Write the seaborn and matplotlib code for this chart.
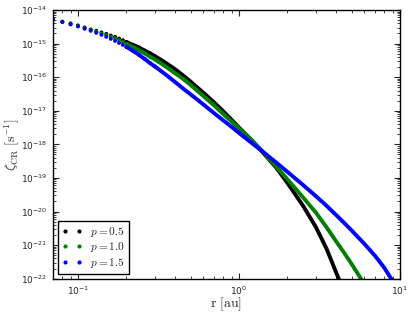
import matplotlib
matplotlib.use("Agg")
import matplotlib.pyplot as plt
from matplotlib.lines import Line2D
import seaborn as sns
import pandas as pd

# ==============================
# Data (log10 of zeta_CR in s^-1)
# ==============================
r_au = [0.07, 0.08, 0.09, 0.10, 0.11, 0.12, 0.13, 0.14, 0.15, 0.16,
        0.17, 0.18, 0.19, 0.20, 0.22, 0.24, 0.26, 0.28, 0.30, 0.35,
        0.40, 0.45, 0.50, 0.6, 0.7, 0.8, 0.9, 1.0, 1.2, 1.4,
        1.7, 2.0, 2.5, 3.0, 3.5, 4.0, 4.5, 5.0, 5.5, 6.0,
        7.0, 8.0, 9.0]

log_zeta_p05 = [-14.28, -14.35, -14.40, -14.46, -14.52, -14.58, -14.62, -14.67, -14.71, -14.76,
                -14.80, -14.85, -14.90, -14.95, -15.04, -15.12, -15.21, -15.29, -15.37, -15.57,
                -15.76, -15.95, -16.13, -16.46, -16.75, -17.02, -17.27, -17.50, -17.88, -18.23,
                -18.69, -19.15, -19.83, -20.46, -21.11, -21.80, -22.39]

log_zeta_p10 = [-14.29, -14.35, -14.42, -14.48, -14.54, -14.60, -14.65, -14.70, -14.75, -14.80,
                -14.85, -14.90, -14.95, -15.01, -15.10, -15.20, -15.29, -15.39, -15.47, -15.68,
                -15.88, -16.05, -16.23, -16.56, -16.84, -17.10, -17.32, -17.53, -17.88, -18.21,
                -18.66, -19.04, -19.58, -20.03, -20.47, -20.88, -21.23, -21.56, -21.87, -22.16]

log_zeta_p15 = [-14.30, -14.36, -14.43, -14.49, -14.56, -14.62, -14.68, -14.74, -14.80, -14.86,
                -14.92, -14.98, -15.04, -15.10, -15.22, -15.34, -15.46, -15.58, -15.68, -15.92,
                -16.14, -16.34, -16.51, -16.81, -17.07, -17.29, -17.48, -17.66, -17.96, -18.21,
                -18.54, -18.82, -19.21, -19.54, -19.83, -20.10, -20.34, -20.56, -20.77, -20.96,
                -21.32, -21.68, -22.07]

p_values = ["0.5", "1.0", "1.5"]
colores = ["black", "green", "blue"]

# ==============================
# Styling
# ==============================
sns.set_style("ticks")
plt.rcParams["font.family"] = ["DejaVu Sans"]
plt.rcParams["mathtext.fontset"] = "cm"
plt.rcParams["axes.linewidth"] = 1.0
plt.rcParams["axes.edgecolor"] = "black"

fig = plt.figure(figsize=(4.15, 3.17), dpi=100)
ax = fig.add_axes([0.1277, 0.1208, 0.8362, 0.8477])

series = [log_zeta_p05, log_zeta_p10, log_zeta_p15]
for p, col, logz in zip(p_values, colores, series):
    df = pd.DataFrame({"r": r_au[:len(logz)], "zeta": [10.0 ** v for v in logz]})
    # continuous part (dense points merge into a thick curve)
    sns.lineplot(data=df[df["r"] >= 0.2], x="r", y="zeta", color=col,
                 linewidth=2.8, estimator=None, ax=ax, legend=False)
    # sparse dots at small radii
    sns.scatterplot(data=df[df["r"] <= 0.3], x="r", y="zeta", color=col,
                    s=8, edgecolor="none", ax=ax, legend=False)

ax.set_xscale("log")
ax.set_yscale("log")
ax.set_xlim(0.07, 10)
ax.set_ylim(1e-22, 1e-14)

ax.set_xlabel(r"$\mathrm{r\ [au]}$", fontsize=10, labelpad=-1)
ax.set_ylabel(r"$\zeta_{\mathrm{CR}}\ [\mathrm{s^{-1}}]$", fontsize=10, labelpad=-1)

ax.tick_params(which="both", direction="in", top=True, right=True, labelsize=6.5)
ax.tick_params(which="major", length=4, width=0.8, pad=4)
ax.tick_params(which="minor", length=2, width=0.6)
for s in ax.spines.values():
    s.set_visible(True)

handles = [Line2D([], [], marker="o", linestyle="none", color=c, markersize=2)
           for c in colores]
labels = [rf"$p={p}$" for p in p_values]
leg = ax.legend(handles, labels, loc="lower left", numpoints=2, fontsize=8.2,
                frameon=True, fancybox=False, framealpha=1, edgecolor="black",
                handlelength=1.8, handletextpad=0.7, borderaxespad=0.4,
                labelspacing=0.15, borderpad=0.35)
leg.get_frame().set_linewidth(1.0)

fig.savefig("out.png", dpi=100)
